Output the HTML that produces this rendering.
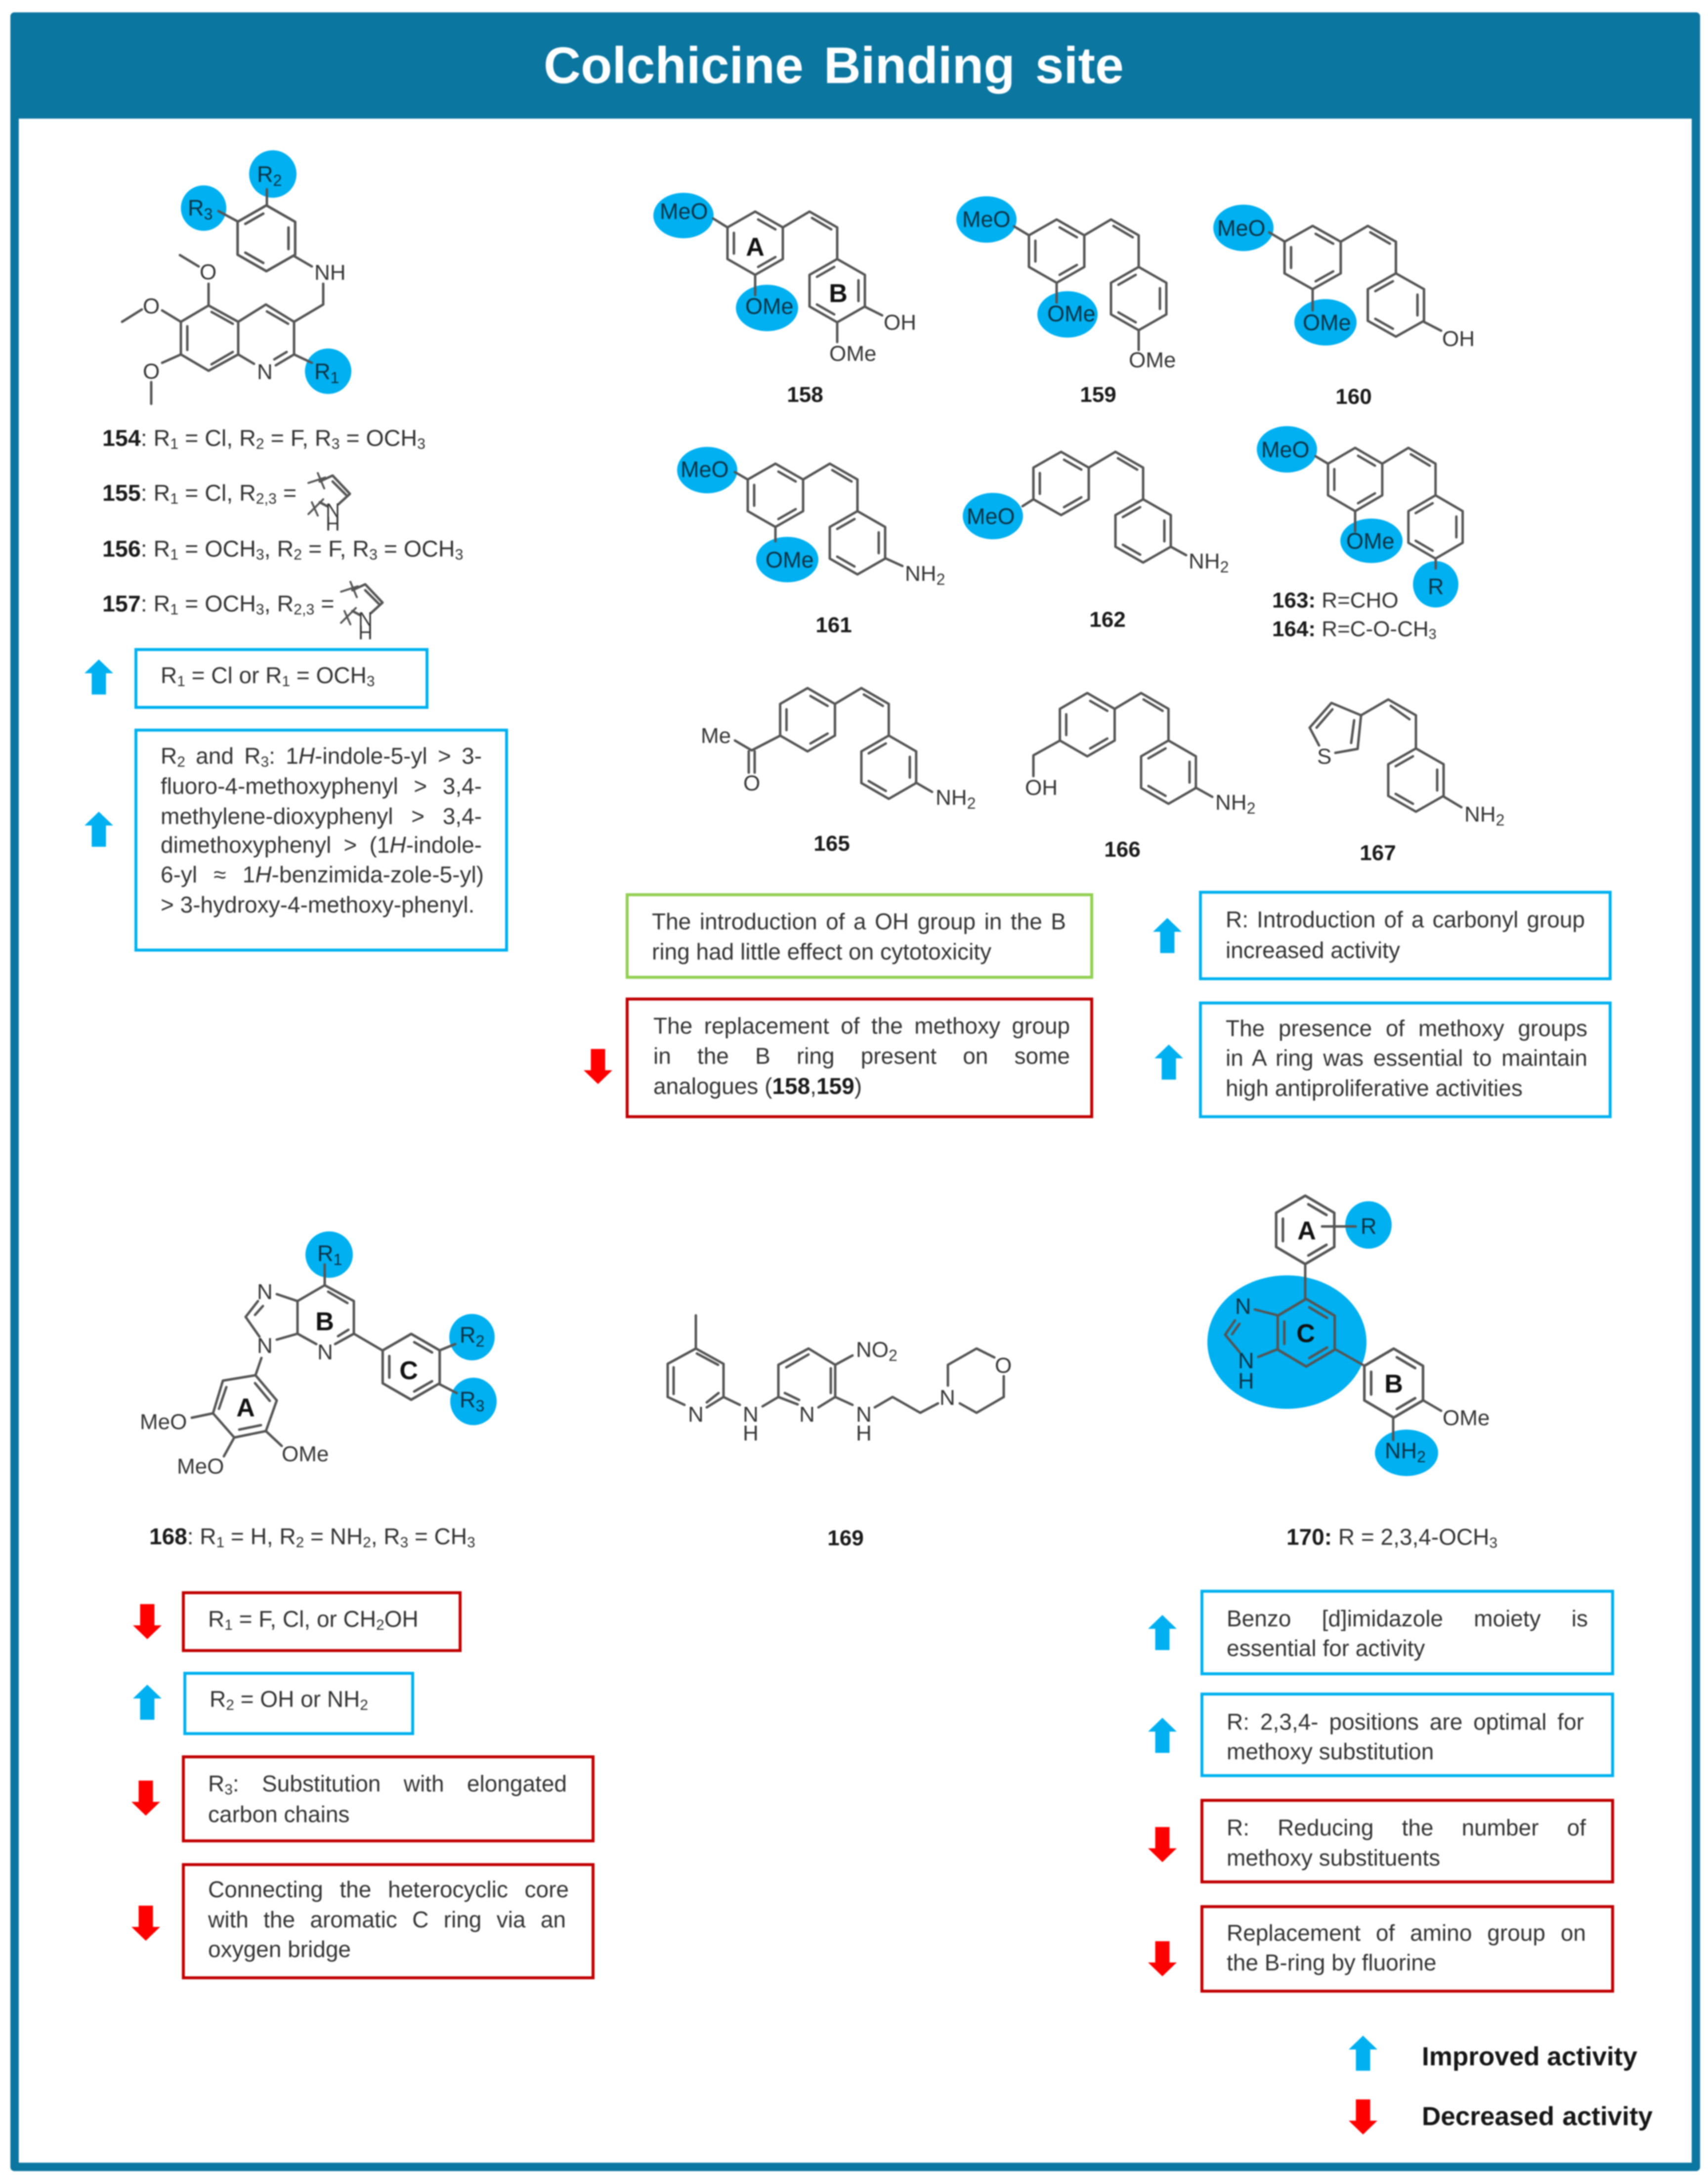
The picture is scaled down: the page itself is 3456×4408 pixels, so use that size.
<!DOCTYPE html>
<html><head><meta charset="utf-8"><title>Colchicine Binding site</title>
<style>
html,body{margin:0;padding:0;background:#fff}
#p{position:relative;width:3456px;height:4408px;overflow:hidden;background:#fff;filter:blur(1.4px);font-family:"Liberation Sans",sans-serif}
svg{position:absolute;left:0;top:0}
svg text{font-family:"Liberation Sans",sans-serif}
.a{font-size:44px;fill:#363636}
.k{font-size:45px;fill:#0d3346}
.n{font-size:44px;font-weight:700;fill:#1a1a1a;text-anchor:middle}
.L{font-size:52px;font-weight:700;fill:#111;text-anchor:middle}
.l{position:absolute;font-size:46px;line-height:60px;color:#333;white-space:nowrap}
.j{text-align:justify;text-align-last:justify}
.l b{color:#1a1a1a}
.l sub{font-size:.65em;vertical-align:-.2em;line-height:0}
.g{font-size:53px;font-weight:700;color:#161616}
.m{font-size:46.6px}
.s{font-size:44px}
</style></head><body><div id="p">
<svg width="3456" height="4408" viewBox="0 0 3456 4408" xmlns="http://www.w3.org/2000/svg">
<defs>
<g id="r1"><path d="M0,-64L56,-32V32L0,64L-56,32V-32Z"/><path d="M6,-48L41,-28M41,28L6,48M-43,-21V21"/></g>
<g id="r2"><path d="M0,-64L56,-32V32L0,64L-56,32V-32Z"/><path d="M-6,-48L-41,-28M43,-21V21M-6,48L-41,28"/></g>
<g id="st"><use href="#r1"/><path d="M56,-32L110,-64L166,-32V32"/><path d="M115,-51L154,-28"/><use href="#r2" transform="translate(166,96)"/></g>
<g id="up"><path d="M0,0L29,28H14.5V71H-14.5V28H-29Z" fill="#00B0F0" stroke="none"/></g>
<g id="dn"><path d="M0,0L29,-28H14.5V-71H-14.5V-28H-29Z" fill="#FF0000" stroke="none"/></g>
<g id="py"><path d="M647,974L673,962L708,999L685,1020M673,974L700,1001M647,1016L662,1024"/><path d="M624,977L658,966M643,957L656,988M624,1040L654,1010M631,1016L643,1043" stroke-width="4"/></g>
</defs>

<!-- frame -->
<rect x="21" y="25" width="3419" height="4367" rx="8" fill="#0B76A0"/>
<rect x="38" y="240" width="3385" height="4135" fill="#fff"/>
<text x="1100" y="168" font-size="104" font-weight="700" fill="#fff" word-spacing="12">Colchicine Binding site</text>

<!-- highlight ellipses -->
<g fill="#00B0F0">
<ellipse cx="552" cy="352" rx="48" ry="48"/><ellipse cx="412" cy="421" rx="46" ry="46"/><ellipse cx="664" cy="751" rx="47" ry="46"/>
<ellipse cx="1383" cy="436" rx="61" ry="46"/><ellipse cx="1552" cy="623" rx="63" ry="47"/>
<ellipse cx="1996" cy="444" rx="61" ry="47"/><ellipse cx="2160" cy="636" rx="61" ry="47"/>
<ellipse cx="2516" cy="461" rx="61" ry="47"/><ellipse cx="2682" cy="652" rx="63" ry="47"/>
<ellipse cx="1431" cy="951" rx="61" ry="47"/><ellipse cx="1593" cy="1132" rx="63" ry="46"/>
<ellipse cx="2009" cy="1044" rx="61" ry="47"/>
<ellipse cx="2604" cy="909" rx="61" ry="47"/><ellipse cx="2775" cy="1094" rx="63" ry="45"/><ellipse cx="2905" cy="1182" rx="46" ry="47"/>
<ellipse cx="666" cy="2538" rx="48" ry="47"/><ellipse cx="955" cy="2705" rx="46" ry="47"/><ellipse cx="958" cy="2835" rx="47" ry="48"/>
<ellipse cx="2604" cy="2715" rx="161" ry="135"/><ellipse cx="2769" cy="2478" rx="47" ry="48"/><ellipse cx="2846" cy="2939" rx="64" ry="47"/>
</g>

<!-- bonds -->
<g fill="none" stroke="#555" stroke-width="5" stroke-linejoin="round" stroke-linecap="round">
<!-- 154 -->
<use href="#r2" transform="translate(539,482) scale(1.04)"/>
<path d="M540,415V383M481,448L442,427M595,518L631,539M654,574V616L595,651"/>
<path d="M422,618L482,651L538,616L595,651V717L558,739M514,736L482,717V651M482,717L422,750L366,717V651L422,618"/>
<path d="M428,631L471,655M379,660V708M428,737L471,712M540,630L583,655M580,712L555,727"/>
<path d="M422,618V574M402,539L364,516M366,651L328,628M287,626L247,651M366,717L328,734M306,773V817M595,717L631,734"/>
<use href="#py"/><use href="#py" transform="translate(66,220)"/>
<!-- 158 -->
<use href="#st" transform="translate(1528,492)"/>
<path d="M1472,460L1443,442M1528,556V597M1751,621L1785,638M1694,652V692"/>
<!-- 159 -->
<use href="#st" transform="translate(2138,508)"/>
<path d="M2082,476L2052,458M2138,572V612M2304,668V708"/>
<!-- 160 -->
<use href="#st" transform="translate(2656,521) scale(1.015,1)"/>
<path d="M2600,489L2568,470M2656,585V628M2881,651L2916,669"/>
<!-- 161 -->
<use href="#st" transform="translate(1569,1002)"/>
<path d="M1513,970L1487,955M1569,1066V1095M1793,1130L1826,1145"/>
<!-- 162 -->
<use href="#st" transform="translate(2147,978)"/>
<path d="M2091,1010L2069,1024M2369,1106L2400,1123"/>
<!-- 163 -->
<use href="#st" transform="translate(2742,970) scale(.98,1)"/>
<path d="M2687,938L2662,923M2742,1034V1075M2905,1130V1150"/>
<!-- 165 -->
<use href="#st" transform="translate(1634,1456) scale(.99,1)"/>
<path d="M1579,1488L1521,1518L1487,1498M1515,1520V1563M1527,1520V1563M1853,1583L1886,1602"/>
<!-- 166 -->
<use href="#st" transform="translate(2200,1466) scale(.99,1)"/>
<path d="M2145,1498L2091,1528V1570M2419,1593L2453,1612"/>
<!-- 167 -->
<path d="M2669,1508L2650,1472L2694,1422L2754,1447L2747,1515L2702,1523M2696,1435L2664,1472M2740,1457L2734,1503"/>
<path d="M2754,1447L2809,1415L2865,1447V1513M2814,1428L2852,1455"/>
<use href="#r2" transform="translate(2865,1578)"/>
<path d="M2922,1612L2957,1633"/>
<!-- 168 -->
<path d="M657,2558V2600L716,2632V2698L678,2719M602,2698L640,2719M602,2632V2698M602,2632L657,2600M664,2613L703,2636M705,2690L684,2703"/>
<path d="M560,2618L602,2632M522,2632L497,2664L525,2704M532,2642L516,2660M560,2710L602,2698"/>
<path d="M716,2698L774,2732M889,2732L921,2719M889,2800L924,2818"/>
<use href="#r1" transform="translate(832,2765) scale(1.03,1.04)"/>
<path d="M529,2747L517,2782L560,2833L538,2895L474,2908L431,2859L451,2793L517,2782M516,2798L546,2834M528,2883L484,2892M443,2850L458,2806"/>
<path d="M431,2859L388,2868M474,2908L453,2946M538,2895L570,2925"/>
<!-- 169 -->
<path d="M1408,2661V2728L1464,2759V2826L1430,2847M1408,2728L1351,2759V2826L1385,2842M1410,2738L1453,2761M1363,2766V2820M1430,2837L1454,2818"/>
<path d="M1464,2826L1497,2842M1543,2845L1575,2826V2761L1636,2728L1690,2761V2826L1656,2847M1575,2826L1614,2841M1591,2766L1636,2740M1681,2768V2818M1588,2818L1617,2832"/>
<path d="M1690,2761L1725,2742M1690,2826L1725,2842M1770,2847L1806,2826L1862,2858L1898,2839"/>
<path d="M1918,2803V2761L1976,2728L2012,2746M2031,2784V2826L1976,2858L1942,2839"/>
<!-- 170 -->
<use href="#r1" transform="translate(2641,2488) scale(1.05,1.08)"/>
<path d="M2675,2481H2743M2641,2557V2628"/>
<use href="#r1" transform="translate(2643,2696) scale(1.03,1.07)"/>
<path d="M2539,2649L2586,2661M2499,2671L2479,2700L2508,2735M2508,2678L2493,2699M2546,2745L2586,2729M2701,2729L2761,2763"/>
<use href="#r1" transform="translate(2820,2798) scale(1.06,1.09)"/>
<path d="M2880,2833L2916,2854M2819,2867V2913"/>
</g>

<!-- boxes -->
<g fill="none" stroke-width="6">
<g stroke="#00B0F0">
<rect x="275" y="1314" width="589" height="117"/><rect x="275" y="1477" width="750" height="445"/>
<rect x="2429" y="1805" width="829" height="175"/><rect x="2429" y="2029" width="829" height="230"/>
<rect x="374" y="3385" width="461" height="122"/>
<rect x="2432" y="3219" width="831" height="167"/><rect x="2432" y="3427" width="831" height="165"/>
</g>
<rect x="1269" y="1810" width="940" height="167" stroke="#92D050"/>
<g stroke="#C00000">
<rect x="1269" y="2021" width="940" height="238"/>
<rect x="371" y="3222" width="560" height="117"/><rect x="371" y="3554" width="829" height="170"/><rect x="371" y="3772" width="829" height="229"/>
<rect x="2432" y="3642" width="831" height="165"/><rect x="2432" y="3857" width="831" height="171"/>
</g>
</g>

<!-- arrows -->
<use href="#up" transform="translate(200,1334)"/><use href="#up" transform="translate(200,1642)"/>
<use href="#up" transform="translate(2362,1857)"/><use href="#up" transform="translate(2365,2113)"/>
<use href="#dn" transform="translate(1210,2193)"/>
<use href="#dn" transform="translate(298,3316)"/><use href="#up" transform="translate(298,3408)"/>
<use href="#dn" transform="translate(295,3673)"/><use href="#dn" transform="translate(295,3926)"/>
<use href="#up" transform="translate(2352,3267)"/><use href="#up" transform="translate(2352,3475)"/>
<use href="#dn" transform="translate(2352,3767)"/><use href="#dn" transform="translate(2352,3998)"/>
<use href="#up" transform="translate(2758,4118)"/><use href="#dn" transform="translate(2758,4318)"/>

<!-- 154 labels -->
<text class="k" x="520" y="368">R<tspan dy="8" font-size="32">2</tspan></text>
<text class="k" x="380" y="436">R<tspan dy="8" font-size="32">3</tspan></text>
<text class="k" x="636" y="767">R<tspan dy="8" font-size="32">1</tspan></text>
<text class="a" x="636" y="566">NH</text>
<text class="a" x="520" y="767">N</text>
<text class="a" x="404" y="565">O</text><text class="a" x="289" y="634">O</text><text class="a" x="289" y="766">O</text>
<text class="a" x="659" y="1046" style="font-size:40px">N</text><text class="a" x="659" y="1073" style="font-size:40px">H</text>
<text class="a" x="725" y="1266" style="font-size:40px">N</text><text class="a" x="725" y="1293" style="font-size:40px">H</text>
<!-- 158 -->
<text class="k" x="1335" y="443">MeO</text><text class="k" x="1508" y="635">OMe</text>
<text class="a" x="1788" y="667">OH</text><text class="a" x="1678" y="730">OMe</text>
<text class="L" x="1528" y="517">A</text><text class="L" x="1696" y="611">B</text><text class="n" x="1629" y="813">158</text>
<!-- 159 -->
<text class="k" x="1947" y="459">MeO</text><text class="k" x="2119" y="650">OMe</text>
<text class="a" x="2284" y="743">OMe</text><text class="n" x="2222" y="813">159</text>
<!-- 160 -->
<text class="k" x="2463" y="477">MeO</text><text class="k" x="2636" y="668">OMe</text>
<text class="a" x="2918" y="700">OH</text><text class="n" x="2739" y="817">160</text>
<!-- 161 -->
<text class="k" x="1377" y="965">MeO</text><text class="k" x="1549" y="1148">OMe</text>
<text class="a" x="1831" y="1175">NH<tspan dy="8" font-size="32">2</tspan></text><text class="n" x="1687" y="1279">161</text>
<!-- 162 -->
<text class="k" x="1956" y="1060">MeO</text>
<text class="a" x="2405" y="1150">NH<tspan dy="8" font-size="32">2</tspan></text><text class="n" x="2241" y="1268">162</text>
<!-- 163 -->
<text class="k" x="2552" y="925">MeO</text><text class="k" x="2724" y="1110">OMe</text>
<text class="k" x="2889" y="1202">R</text>
<!-- 165 -->
<text class="a" x="1418" y="1503">Me</text><text class="a" x="1504" y="1599">O</text>
<text class="a" x="1893" y="1628">NH<tspan dy="8" font-size="32">2</tspan></text><text class="n" x="1683" y="1721">165</text>
<!-- 166 -->
<text class="a" x="2074" y="1608">OH</text>
<text class="a" x="2459" y="1638">NH<tspan dy="8" font-size="32">2</tspan></text><text class="n" x="2271" y="1733">166</text>
<!-- 167 -->
<text class="a" x="2665" y="1545">S</text>
<text class="a" x="2963" y="1662">NH<tspan dy="8" font-size="32">2</tspan></text><text class="n" x="2788" y="1740">167</text>
<!-- 168 -->
<text class="k" x="642" y="2551">R<tspan dy="8" font-size="32">1</tspan></text>
<text class="k" x="930" y="2716">R<tspan dy="8" font-size="32">2</tspan></text>
<text class="k" x="930" y="2847">R<tspan dy="8" font-size="32">3</tspan></text>
<text class="a" x="520" y="2628">N</text><text class="a" x="520" y="2737">N</text><text class="a" x="642" y="2750">N</text>
<text class="a" x="283" y="2891">MeO</text><text class="a" x="358" y="2981">MeO</text><text class="a" x="570" y="2956">OMe</text>
<text class="L" x="497" y="2865">A</text><text class="L" x="657" y="2691">B</text><text class="L" x="827" y="2790">C</text>
<!-- 169 -->
<text class="a" x="1392" y="2876">N</text>
<text class="a" x="1503" y="2876">N</text><text class="a" x="1503" y="2914">H</text>
<text class="a" x="1617" y="2876">N</text>
<text class="a" x="1732" y="2876">N</text><text class="a" x="1732" y="2914">H</text>
<text class="a" x="1732" y="2745">NO<tspan dy="8" font-size="32">2</tspan></text>
<text class="a" x="1901" y="2842">N</text><text class="a" x="2013" y="2777">O</text>
<text class="n" x="1711" y="3126">169</text>
<!-- 170 -->
<text class="k" x="2753" y="2496">R</text>
<text class="k" x="2499" y="2658">N</text><text class="k" x="2505" y="2768">N</text><text class="k" x="2505" y="2809">H</text>
<text class="a" x="2919" y="2883">OMe</text>
<text class="k" x="2802" y="2950">NH<tspan dy="8" font-size="32">2</tspan></text>
<text class="L" x="2644" y="2507">A</text><text class="L" x="2642" y="2715">C</text><text class="L" x="2820" y="2817">B</text>
</svg>

<!-- text lines: top = baseline - 46 -->
<div class="l m" style="left:207px;top:856px"><b>154</b>: R<sub>1</sub> = Cl, R<sub>2</sub> = F, R<sub>3</sub> = OCH<sub>3</sub></div>
<div class="l m" style="left:207px;top:967px"><b>155</b>: R<sub>1</sub> = Cl, R<sub>2,3</sub> =</div>
<div class="l m" style="left:207px;top:1080px"><b>156</b>: R<sub>1</sub> = OCH<sub>3</sub>, R<sub>2</sub> = F, R<sub>3</sub> = OCH<sub>3</sub></div>
<div class="l m" style="left:207px;top:1191px"><b>157</b>: R<sub>1</sub> = OCH<sub>3</sub>, R<sub>2,3</sub> =</div>

<div class="l" style="left:325px;top:1336px">R<sub>1</sub> = Cl or R<sub>1</sub> = OCH<sub>3</sub></div>
<div class="l j" style="left:325px;top:1499px;width:650px">R<sub>2</sub> and R<sub>3</sub>: 1<i>H</i>-indole-5-yl &gt; 3-</div>
<div class="l j" style="left:325px;top:1560px;width:650px">fluoro-4-methoxyphenyl &gt; 3,4-</div>
<div class="l j" style="left:325px;top:1621px;width:650px">methylene-dioxyphenyl &gt; 3,4-</div>
<div class="l j" style="left:325px;top:1679px;width:650px">dimethoxyphenyl &gt; (1<i>H</i>-indole-</div>
<div class="l j" style="left:325px;top:1739px;width:654px">6-yl ≈ 1<i>H</i>-benzimida-zole-5-yl)</div>
<div class="l" style="left:325px;top:1800px">&gt; 3-hydroxy-4-methoxy-phenyl.</div>

<div class="l s" style="left:2574px;top:1185px"><b>163:</b> R=CHO</div>
<div class="l s" style="left:2574px;top:1243px"><b>164:</b> R=C-O-CH<sub>3</sub></div>

<div class="l j" style="left:1319px;top:1834px;width:838px">The introduction of a OH group in the B</div>
<div class="l" style="left:1319px;top:1895px">ring had little effect on cytotoxicity</div>
<div class="l j" style="left:1322px;top:2045px;width:843px">The replacement of the methoxy group</div>
<div class="l j" style="left:1322px;top:2106px;width:843px">in the B ring present on some</div>
<div class="l" style="left:1322px;top:2167px">analogues (<b>158</b>,<b>159</b>)</div>

<div class="l j" style="left:2480px;top:1830px;width:727px">R: Introduction of a carbonyl group</div>
<div class="l" style="left:2480px;top:1892px">increased activity</div>
<div class="l j" style="left:2480px;top:2050px;width:732px">The presence of methoxy groups</div>
<div class="l j" style="left:2480px;top:2110px;width:732px">in A ring was essential to maintain</div>
<div class="l" style="left:2480px;top:2171px">high antiproliferative activities</div>

<div class="l" style="left:302px;top:3078px"><b>168</b>: R<sub>1</sub> = H, R<sub>2</sub> = NH<sub>2</sub>, R<sub>3</sub> = CH<sub>3</sub></div>
<div class="l" style="left:2603px;top:3079px"><b>170:</b> R = 2,3,4-OCH<sub>3</sub></div>

<div class="l" style="left:421px;top:3245px">R<sub>1</sub> = F, Cl, or CH<sub>2</sub>OH</div>
<div class="l" style="left:424px;top:3407px">R<sub>2</sub> = OH or NH<sub>2</sub></div>
<div class="l j" style="left:421px;top:3578px;width:726px">R<sub>3</sub>: Substitution with elongated</div>
<div class="l" style="left:421px;top:3640px">carbon chains</div>
<div class="l j" style="left:421px;top:3792px;width:730px">Connecting the heterocyclic core</div>
<div class="l j" style="left:421px;top:3853px;width:724px">with the aromatic C ring via an</div>
<div class="l" style="left:421px;top:3913px">oxygen bridge</div>

<div class="l j" style="left:2482px;top:3244px;width:731px">Benzo [d]imidazole moiety is</div>
<div class="l" style="left:2482px;top:3304px">essential for activity</div>
<div class="l j" style="left:2482px;top:3453px;width:723px">R: 2,3,4- positions are optimal for</div>
<div class="l" style="left:2482px;top:3513px">methoxy substitution</div>
<div class="l j" style="left:2482px;top:3667px;width:727px">R: Reducing the number of</div>
<div class="l" style="left:2482px;top:3728px">methoxy substituents</div>
<div class="l j" style="left:2482px;top:3880px;width:727px">Replacement of amino group on</div>
<div class="l" style="left:2482px;top:3940px">the B-ring by fluorine</div>

<div class="l g j" style="left:2877px;top:4131px;width:435px">Improved activity</div>
<div class="l g j" style="left:2877px;top:4252px;width:467px">Decreased activity</div>
</div></body></html>
